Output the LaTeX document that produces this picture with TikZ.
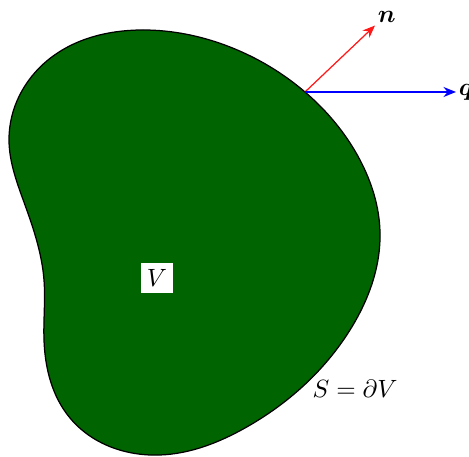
\documentclass[tikz,border=0pt]{standalone}
\usepackage{amsmath}
\usetikzlibrary{arrows.meta,hobby}
\definecolor{blobgreen}{RGB}{0,100,0}
\begin{document}
\begin{tikzpicture}[x=0.4pt,y=-0.4pt,
  vec/.style={line width=0.5pt,-{Stealth[length=5pt,width=4pt]}},
  lbl/.style={inner sep=1pt}]
\useasboundingbox (0,0) rectangle (469,457);
\filldraw[fill=blobgreen,draw=black,line width=0.5pt,use Hobby shortcut,closed=true]
  (143,30) .. (230,47) .. (305,92) .. (360,160) .. (380,232) .. (350,330)
  .. (245,428) .. (160,455) .. (70,418) .. (44,340) .. (44,280)
  .. (25,205) .. (9,140) .. (48,60);
\coordinate (p) at (305,92);
\node[lbl,fill=white,minimum width=13pt,minimum height=12pt] (V) at (157,278) {$V$};
\node[lbl] (S) at (355,389) {$S=\partial V$};
\node[lbl,anchor=west] (n) at (375,17) {$\boldsymbol{n}$};
\node[lbl,anchor=west] (q) at (456,92) {$\boldsymbol{q}$};
\draw[vec,red!90] (p) -- (n.south west);
\draw[vec,blue] (p) -- (q.west);
\end{tikzpicture}
\end{document}
